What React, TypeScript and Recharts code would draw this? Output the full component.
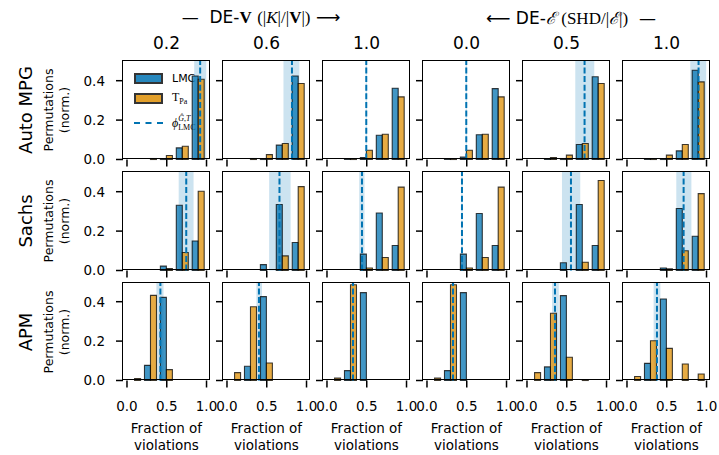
import React from 'react';
import { BarChart, Bar, XAxis, YAxis, ReferenceArea, ReferenceLine } from 'recharts';

// histogram bin centres (bin width 0.2)
const binCenters = [0.1, 0.3, 0.5, 0.7, 0.9];
const xTicks = [0, 0.5, 1];
const yTicks = [0, 0.2, 0.4];
const rowLabels = ['Auto MPG', 'Sachs', 'APM'];
const columnValues = ['0.2', '0.6', '1.0', '0.0', '0.5', '1.0'];

// one row per column, one value per bin
const lmcAutoMpg = [
  [0, 0, 0.002, 0.059, 0.424],
  [0, 0, 0.003, 0.073, 0.424],
  [0, 0.002, 0.01, 0.123, 0.362],
  [0, 0.002, 0.012, 0.126, 0.36],
  [0, 0.002, 0.005, 0.076, 0.42],
  [0, 0.002, 0.003, 0.044, 0.453],
];
const tpaAutoMpg = [
  [0, 0.005, 0.02, 0.067, 0.407],
  [0, 0.005, 0.025, 0.081, 0.386],
  [0, 0.002, 0.047, 0.128, 0.318],
  [0, 0.002, 0.047, 0.128, 0.318],
  [0, 0.01, 0.022, 0.081, 0.386],
  [0, 0.002, 0.022, 0.076, 0.394],
];
const phiAutoMpg = [0.92, 0.817, 0.494, 0.494, 0.724, 0.9];
const bandAutoMpg = [[0.845, 0.997], [0.71, 0.91], [0.487, 0.501], [0.487, 0.501], [0.607, 0.846], [0.795, 0.996]];

const lmcSachs = [
  [0, 0, 0.022, 0.331, 0.15],
  [0, 0, 0.03, 0.335, 0.142],
  [0, 0, 0.083, 0.292, 0.127],
  [0, 0, 0.083, 0.289, 0.127],
  [0, 0, 0.039, 0.335, 0.127],
  [0, 0, 0.013, 0.315, 0.174],
];
const tpaSachs = [
  [0, 0, 0.01, 0.091, 0.402],
  [0, 0, 0, 0.074, 0.426],
  [0, 0, 0.013, 0.066, 0.423],
  [0, 0, 0.013, 0.066, 0.423],
  [0, 0, 0, 0.042, 0.457],
  [0, 0, 0.008, 0.1, 0.39],
];
const phiSachs = [0.745, 0.66, 0.44, 0.44, 0.553, 0.712];
const bandSachs = [[0.65, 0.837], [0.53, 0.8], [0.405, 0.472], [0.432, 0.448], [0.44, 0.67], [0.62, 0.81]];

const lmcApm = [
  [0, 0.077, 0.422, 0, 0],
  [0, 0.072, 0.426, 0, 0],
  [0, 0.05, 0.446, 0, 0],
  [0, 0.05, 0.446, 0, 0],
  [0, 0.069, 0.431, 0, 0],
  [0, 0.087, 0.414, 0, 0],
];
const tpaApm = [
  [0.01, 0.432, 0.055, 0, 0],
  [0.04, 0.374, 0.089, 0, 0],
  [0.012, 0.486, 0, 0, 0],
  [0.012, 0.486, 0, 0, 0],
  [0.04, 0.341, 0.118, 0.002, 0],
  [0.02, 0.202, 0.163, 0.084, 0.033],
];
const phiApm = [0.42, 0.402, 0.327, 0.327, 0.352, 0.377];
const bandApm = [[0.37, 0.46], [0.37, 0.44], [0.31, 0.345], [0.31, 0.345], [0.315, 0.4], [0.335, 0.42]];

const rows = [
  { lmc: lmcAutoMpg, tpa: tpaAutoMpg, phi: phiAutoMpg, band: bandAutoMpg },
  { lmc: lmcSachs, tpa: tpaSachs, phi: phiSachs, band: bandSachs },
  { lmc: lmcApm, tpa: tpaApm, phi: phiApm, band: bandApm },
];

const BLUE = '#0173B2';
const ORANGE = '#DE8F05';
const FONT = "'DejaVu Sans', sans-serif";
const MATH = "'Liberation Serif', serif";

const PANEL_W = 87.5;
const PANEL_H = 98.5;
const Y_W = 42;
const X_H = 40;
const RIGHT = 16;
const colLeft = (c: number) => 122.7 + 100 * c;
const rowTop = (r: number) => 61 + 110.7 * r;

function Panel({ r, c }: { r: number; c: number }) {
  const row = rows[r];
  const data = binCenters.map((x, i) => ({ x, lmc: row.lmc[c][i], tpa: row.tpa[c][i] }));
  const tickLine = { stroke: '#000', strokeWidth: 1.5 };
  return (
    <div style={{ position: 'absolute', left: colLeft(c) - Y_W, top: rowTop(r) }}>
      <BarChart
        width={Y_W + PANEL_W + RIGHT}
        height={PANEL_H + X_H}
        data={data}
        margin={{ top: 0, right: RIGHT, bottom: 0, left: 0 }}
        barCategoryGap="10%"
        barGap={0}
      >
        <XAxis
          dataKey="x"
          type="number"
          domain={[-0.05, 1.05]}
          ticks={xTicks}
          interval={0}
          height={X_H}
          axisLine={false}
          tickSize={7}
          tickMargin={14}
          tickLine={tickLine}
          tick={(p: any) =>
            r === 2 ? (
              <text x={p.x} y={p.y} dy="0.71em" textAnchor="middle" fontSize={13.5} fontFamily={FONT} fill="#000">
                {Number(p.payload.value).toFixed(1)}
              </text>
            ) : (
              <g />
            )
          }
        />
        <YAxis
          type="number"
          domain={[0, 0.5]}
          ticks={yTicks}
          interval={0}
          width={Y_W}
          axisLine={false}
          tickSize={7}
          tickMargin={11}
          tickLine={tickLine}
          tick={(p: any) =>
            c === 0 ? (
              <text x={p.x} y={p.y} dy="0.36em" textAnchor="end" fontSize={13.5} fontFamily={FONT} fill="#000">
                {Number(p.payload.value).toFixed(1)}
              </text>
            ) : (
              <g />
            )
          }
        />
        <Bar dataKey="lmc" fill={BLUE} fillOpacity={0.75} stroke="#000" strokeOpacity={0.75} strokeWidth={1.1} isAnimationActive={false} />
        <Bar dataKey="tpa" fill={ORANGE} fillOpacity={0.75} stroke="#000" strokeOpacity={0.75} strokeWidth={1.1} isAnimationActive={false} />
        <ReferenceArea x1={row.band[c][0]} x2={row.band[c][1]} fill={BLUE} fillOpacity={0.2} stroke="none" />
        <ReferenceLine x={row.phi[c]} stroke={BLUE} strokeWidth={2} strokeDasharray="6 2.6" />
      </BarChart>
      <div
        style={{
          position: 'absolute',
          left: Y_W - 0.8,
          top: -0.8,
          width: PANEL_W - 1.6,
          height: PANEL_H - 1.6,
          border: '1.6px solid #000',
          pointerEvents: 'none',
        }}
      />
    </div>
  );
}

const abs = (left: number, top: number, extra: React.CSSProperties = {}): React.CSSProperties => ({
  position: 'absolute',
  left,
  top,
  transform: 'translate(-50%, -50%)',
  whiteSpace: 'nowrap',
  fontFamily: FONT,
  color: '#000',
  ...extra,
});

function Legend() {
  const patch = (color: string): React.CSSProperties => ({
    width: 25,
    height: 7,
    background: color,
    opacity: 0.85,
    border: '2px solid #111',
  });
  const rowStyle: React.CSSProperties = { display: 'flex', alignItems: 'center', height: 20 };
  return (
    <div style={{ position: 'absolute', left: 134, top: 68, fontFamily: FONT, fontSize: 11 }}>
      <div style={rowStyle}>
        <div style={patch(BLUE)} />
        <span style={{ marginLeft: 9 }}>LMC</span>
      </div>
      <div style={rowStyle}>
        <div style={patch(ORANGE)} />
        <span style={{ marginLeft: 9, fontFamily: MATH, fontSize: 12 }}>
          T<sub style={{ fontSize: 8 }}>Pa</sub>
        </span>
      </div>
      <div style={{ ...rowStyle, height: 30 }}>
        <div style={{ width: 29, borderTop: `2px dashed ${BLUE}` }} />
        <span style={{ marginLeft: 9, fontFamily: MATH, fontSize: 12, display: 'inline-flex', alignItems: 'center' }}>
          <i>ϕ</i>
          <span style={{ display: 'inline-flex', flexDirection: 'column', fontSize: 8, lineHeight: '9px' }}>
            <span><i>Ĝ</i>,<i>T</i></span>
            <span>LMC</span>
          </span>
        </span>
      </div>
    </div>
  );
}

export default function App() {
  return (
    <div style={{ position: 'fixed', left: 0, top: 0, width: 719, height: 455, background: '#fff', overflow: 'hidden' }}>
      <Legend />
      {rows.map((_, r) => [0, 1, 2, 3, 4, 5].map((c) => <Panel key={`${r}-${c}`} r={r} c={c} />))}

      <div style={abs(261, 17, { fontSize: 17 })}>
        —&nbsp; DE-<b style={{ fontFamily: MATH }}>V</b>{' '}
        <span style={{ fontFamily: MATH }}>
          (|<i>K</i>|/|<b>V</b>|)
        </span>{' '}
        ⟶
      </div>
      <div style={abs(571, 17, { fontSize: 17 })}>
        ⟵ DE-<i style={{ fontFamily: MATH }}>ℰ</i>{' '}
        <span style={{ fontFamily: MATH }}>
          (SHD/|<i>ℰ</i>|)
        </span>{' '}
        &nbsp;—
      </div>
      {columnValues.map((v, c) => (
        <div key={`cv${c}`} style={abs(colLeft(c) + PANEL_W / 2, 43, { fontSize: 17 })}>
          {v}
        </div>
      ))}

      {rowLabels.map((name, r) => {
        const cy = rowTop(r) + PANEL_H / 2;
        return (
          <React.Fragment key={name}>
            <div style={abs(25, cy, { fontSize: 18, transform: 'translate(-50%, -50%) rotate(-90deg)' })}>{name}</div>
            <div
              style={abs(57, cy, {
                fontSize: 12.5,
                lineHeight: '16px',
                textAlign: 'center',
                transform: 'translate(-50%, -50%) rotate(-90deg)',
              })}
            >
              Permutations
              <br />
              (norm.)
            </div>
          </React.Fragment>
        );
      })}

      {columnValues.map((_, c) => (
        <div
          key={`xl${c}`}
          style={abs(colLeft(c) + PANEL_W / 2, 437, { fontSize: 13.5, lineHeight: '17px', textAlign: 'center' })}
        >
          Fraction of
          <br />
          violations
        </div>
      ))}
    </div>
  );
}
